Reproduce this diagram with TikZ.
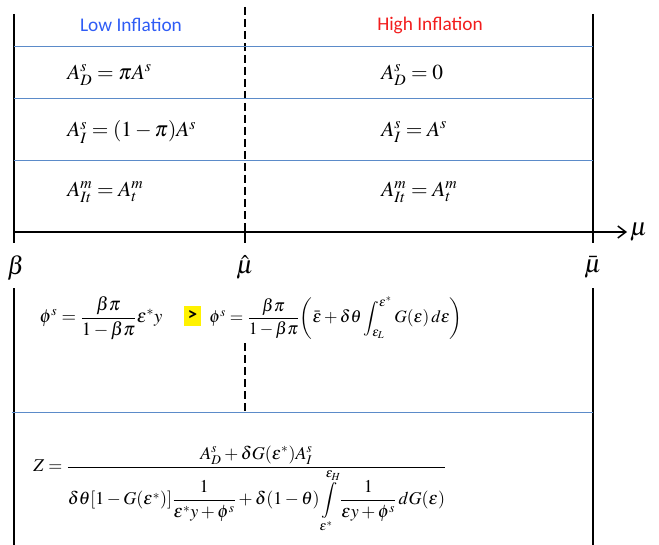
\documentclass[tikz,border=0pt]{standalone}
\usepackage{amsmath}
\usepackage{mathptmx}
\usepackage[no-math]{fontspec}
\newfontfamily\labelfont{Carlito}
\usepackage{tikz}
\usetikzlibrary{arrows.meta}
\usepackage{xcolor}
\definecolor{lowinf}{HTML}{2F5CF5}
\definecolor{highinf}{HTML}{F21D1D}
\definecolor{rowline}{HTML}{5B8BC9}

\begin{document}
\begin{tikzpicture}[x=0.75pt,y=-0.75pt,
  every node/.style={font=\fontsize{14}{17}\selectfont},
  frame/.style={line width=1.1pt},
  divider/.style={line width=1.1pt, dash pattern=on 6pt off 3pt},
  rowsep/.style={rowline, line width=0.6pt},
  regime/.style={font=\labelfont\fontsize{14.5}{17}\selectfont},
  cell/.style={font=\fontsize{16}{19}\selectfont, anchor=west, inner sep=0pt},
  point/.style={font=\fontsize{19}{22}\selectfont, inner sep=1pt}]
  \useasboundingbox (0,0) rectangle (659,545);

  % axis and its points
  \coordinate (beta) at (14,232);
  \coordinate (muhat) at (245,232);
  \coordinate (mubar) at (593,232);
  \coordinate (axisend) at (627,232);
  \draw[frame, -{Straight Barb[length=6pt,width=9pt]}] (beta) -- (axisend);
  \node[point, right, inner sep=2pt] (mu) at (axisend) {$\mu$};
  \node[point] (betalbl) at (16,268) {$\beta$};
  \node[point] (muhatlbl) at (245,267) {$\hat{\mu}$};
  \node[point] (mubarlbl) at (593,267) {$\bar{\mu}$};

  % frame
  \draw[frame] (14,14) -- (14,243);
  \draw[frame] (593,14) -- (593,243);
  \draw[frame] (14,288) -- (14,545);
  \draw[frame] (593,288) -- (593,545);
  \draw[frame] (245,232) -- (245,243);
  \draw[divider] (245,7) -- (245,232);
  \draw[divider] (245,343) -- (245,412);

  % rows
  \foreach \y in {46,98,160} \draw[rowsep] (14,\y) -- (593,\y);
  \draw[rowsep] (12,412) -- (593,412);

  \node[regime, text=lowinf] (low) at (131,25) {Low Inflation};
  \node[regime, text=highinf] (high) at (430,25) {High Inflation};

  \node[cell] (lowd) at (67,75) {$A_D^s = \pi A^s$};
  \node[cell] (lowi) at (67,132) {$A_I^s = (1-\pi)A^s$};
  \node[cell] (lowm) at (67,192) {$A_{It}^m = A_t^m$};
  \node[cell] (highd) at (381,75) {$A_D^s = 0$};
  \node[cell] (highi) at (381,132) {$A_I^s = A^s$};
  \node[cell] (highm) at (381,192) {$A_{It}^m = A_t^m$};

  % supply of safe assets
  \node (philow) at (101,318) {$\phi^s = \dfrac{\beta\pi}{1-\beta\pi}\varepsilon^* y$};
  \node[fill=yellow, inner sep=0pt, minimum width=12.5pt, minimum height=15pt, font=\labelfont\bfseries\fontsize{14}{15}\selectfont] (gt) at (192.5,315.5) {>};
  \node[font=\fontsize{13}{16}\selectfont, inner sep=0pt] (phihigh) at (336,318) {$\phi^s = \dfrac{\beta\pi}{1-\beta\pi}\!\left(\bar{\varepsilon} + \delta\theta\displaystyle\int_{\varepsilon_L}^{\varepsilon^*} G(\varepsilon)\,d\varepsilon\right)$};

  \node[font=\fontsize{13.5}{16}\selectfont] (zeq) at (240,489) {$Z = \dfrac{A_D^s + \delta G(\varepsilon^*)A_I^s}{\delta\theta[1-G(\varepsilon^*)]\dfrac{1}{\varepsilon^* y+\phi^s} + \delta(1-\theta)\displaystyle\int\limits_{\varepsilon^*}^{\varepsilon_H}\dfrac{1}{\varepsilon y+\phi^s}\,dG(\varepsilon)}$};
\end{tikzpicture}
\end{document}
